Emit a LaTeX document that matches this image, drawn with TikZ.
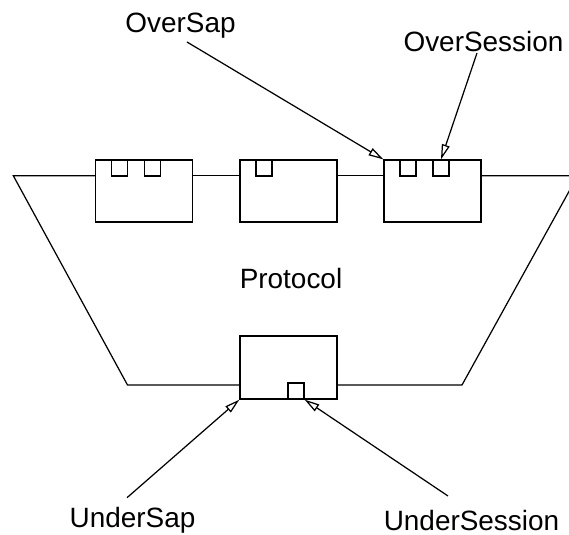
\documentclass[tikz,border=0pt]{standalone}
\usepackage{fontspec}
\setmainfont{Liberation Sans}
\usetikzlibrary{arrows.meta}
\tikzset{
  block/.style={draw,minimum width=1.94cm,minimum height=1.24cm,inner sep=0pt},
  sap/.style={draw,minimum size=0.32cm,inner sep=0pt,anchor=north west},
  lbl/.style={anchor=base,inner sep=0pt,font=\fontsize{15.9}{19}\selectfont},
  pointer/.style={-{Triangle[open,length=0.3cm,width=0.16cm]}},
}
\begin{document}
\begin{tikzpicture}[x=0.02cm,y=-0.02cm,line width=0.7pt]
    \clip (0,0) rectangle (569,535);
    % upper boxes
    \node[block] (box1) at (144,191) {};
    \node[block] (box2) at (288.5,191) {};
    \node[block] (box3) at (432.5,191) {};
    \node[block,minimum height=1.26cm] (low) at (288.5,367.5) {};
    \node[sap,xshift=0.32cm] (s1a) at (box1.north west) {};
    \node[sap,xshift=0.98cm] (s1b) at (box1.north west) {};
    \node[sap,xshift=0.32cm] (s2a) at (box2.north west) {};
    \node[sap,xshift=0.32cm] (s3a) at (box3.north west) {};
    \node[sap,xshift=0.98cm] (s3b) at (box3.north west) {};
    \node[sap,anchor=south west,xshift=0.96cm] (s4) at (low.south west) {};
    % protocol outline
    \coordinate (tl) at (13.3,175.7);
    \coordinate (tr) at (577.7,175.7);
    \coordinate (bl) at (127.5,385);
    \coordinate (br) at (462,385);
    \draw (tl -| box1.west) -- (tl) -- (bl) -- (bl -| low.west);
    \draw (low.east |- br) -- (br) -- (tr) -- (tr -| box3.east);
    \draw (box1.east |- tl) -- (box2.west |- tl);
    \draw (box2.east |- tl) -- (box3.west |- tl);
    % labels
    \node[lbl] (protocol) at (291,288) {Protocol};
    \node[lbl] (oversap) at (180.5,32) {OverSap};
    \node[lbl] (oversession) at (483.5,51.7) {OverSession};
    \node[lbl] (undersap) at (132.5,527.7) {UnderSap};
    \node[lbl] (undersession) at (471.5,530.7) {UnderSession};
    \coordinate (osap) at (187,42);
    \coordinate (oses) at (477,53);
    \coordinate (usap) at (127,497.7);
    \coordinate (uses) at (448,496);
    % pointers
    \draw[pointer] (osap) -- (box3.north west);
    \draw[pointer] (oses) -- (s3b.north);
    \draw[pointer] (usap) -- (low.south west);
    \draw[pointer] (uses) -- (s4.south east);
  \end{tikzpicture}
\end{document}
